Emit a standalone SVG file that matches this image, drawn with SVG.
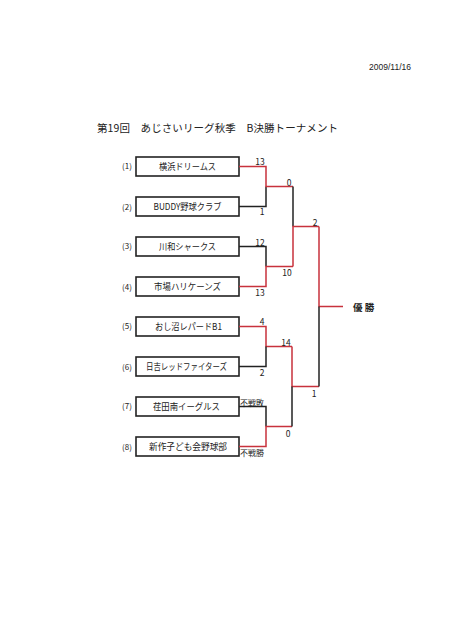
<svg xmlns="http://www.w3.org/2000/svg" width="465" height="640" viewBox="0 0 465 640">
<style>
text{font-family:"Noto Sans CJK JP","Liberation Sans",sans-serif;fill:#222}
.box{fill:#fff;stroke:#222;stroke-width:1.6}
.name{font-size:9px;text-anchor:middle}
.seed{font-size:8px;text-anchor:middle}
.sc{font-size:8.5px;text-anchor:middle}
.b{fill:none;stroke:#222;stroke-width:1.5}
.r{fill:none;stroke:#c8323c;stroke-width:1.5}
</style>
<rect width="465" height="640" fill="#fff"/>
<text x="390" y="70" style="font-size:8.5px;font-family:'Liberation Sans',sans-serif" text-anchor="middle">2009/11/16</text>
<text x="97" y="132" style="font-size:10.5px" textLength="241">第19回　あじさいリーグ秋季　B決勝トーナメント</text>

<g id="team1"><text class="seed" x="127" y="169">(1)</text><rect class="box" x="136" y="157" width="103" height="19"/><text class="name" x="187.5" y="170" textLength="57" lengthAdjust="spacingAndGlyphs">横浜ドリームス</text></g>
<g id="team2"><text class="seed" x="127" y="210">(2)</text><rect class="box" x="136" y="197" width="103" height="19"/><text class="name" x="187.5" y="210" textLength="68" lengthAdjust="spacingAndGlyphs">BUDDY野球クラブ</text></g>
<g id="team3"><text class="seed" x="127" y="249">(3)</text><rect class="box" x="136" y="237" width="103" height="19"/><text class="name" x="187.5" y="250" textLength="57" lengthAdjust="spacingAndGlyphs">川和シャークス</text></g>
<g id="team4"><text class="seed" x="127" y="290">(4)</text><rect class="box" x="136" y="277" width="103" height="19"/><text class="name" x="187.5" y="290" textLength="67" lengthAdjust="spacingAndGlyphs">市場ハリケーンズ</text></g>
<g id="team5"><text class="seed" x="127" y="329">(5)</text><rect class="box" x="136" y="317" width="103" height="19"/><text class="name" x="188.5" y="330" textLength="67" lengthAdjust="spacingAndGlyphs">おし沼レパードB1</text></g>
<g id="team6"><text class="seed" x="127" y="370">(6)</text><rect class="box" x="136" y="357" width="103" height="19"/><text class="name" x="186.5" y="370" textLength="81" lengthAdjust="spacingAndGlyphs">日吉レッドファイターズ</text></g>
<g id="team7"><text class="seed" x="127" y="409">(7)</text><rect class="box" x="136" y="397" width="103" height="19"/><text class="name" x="186.5" y="410" textLength="67" lengthAdjust="spacingAndGlyphs">荏田南イーグルス</text></g>
<g id="team8"><text class="seed" x="127" y="450">(8)</text><rect class="box" x="136" y="437" width="103" height="19"/><text class="name" x="188" y="450" textLength="78" lengthAdjust="spacingAndGlyphs">新作子ども会野球部</text></g>

<g id="connectors">
<path class="b" d="M239 206.5H266V186.5"/>
<path class="r" d="M239 166.5H266V186.5H293"/>
<path class="b" d="M239 246.5H266V266.5"/>
<path class="r" d="M239 286.5H266V266.5H293"/>
<path class="b" d="M293 186.5V226.5"/>
<path class="r" d="M293 266.5V226.5H319"/>
<path class="r" d="M239 326.5H266V346.5H292"/>
<path class="b" d="M239 366.5H266V346.5"/>
<path class="b" d="M239 406.5H266V426.5"/>
<path class="r" d="M239 446.5H266V426.5H292"/>
<path class="r" d="M292 346.5V386.5H319"/>
<path class="b" d="M292 386.5V426.5"/>
<path class="r" d="M319 226.5V306.5H343"/>
<path class="b" d="M319 306.5V386.5"/>
</g>

<g id="scores">
<text class="sc" x="260" y="165">13</text>
<text class="sc" x="262" y="215">1</text>
<text class="sc" x="260" y="246">12</text>
<text class="sc" x="260" y="296">13</text>
<text class="sc" x="289" y="186">0</text>
<text class="sc" x="287" y="276">10</text>
<text class="sc" x="315" y="226">2</text>
<text class="sc" x="262" y="325">4</text>
<text class="sc" x="262" y="376">2</text>
<text class="sc" x="252" y="406" style="font-size:8px">不戦敗</text>
<text class="sc" x="252" y="456" style="font-size:8px">不戦勝</text>
<text class="sc" x="286" y="346">14</text>
<text class="sc" x="288" y="437">0</text>
<text class="sc" x="314" y="397">1</text>
</g>
<g id="champion"><text x="353" y="311" style="font-size:9.5px;font-weight:bold">優 勝</text></g>
</svg>
